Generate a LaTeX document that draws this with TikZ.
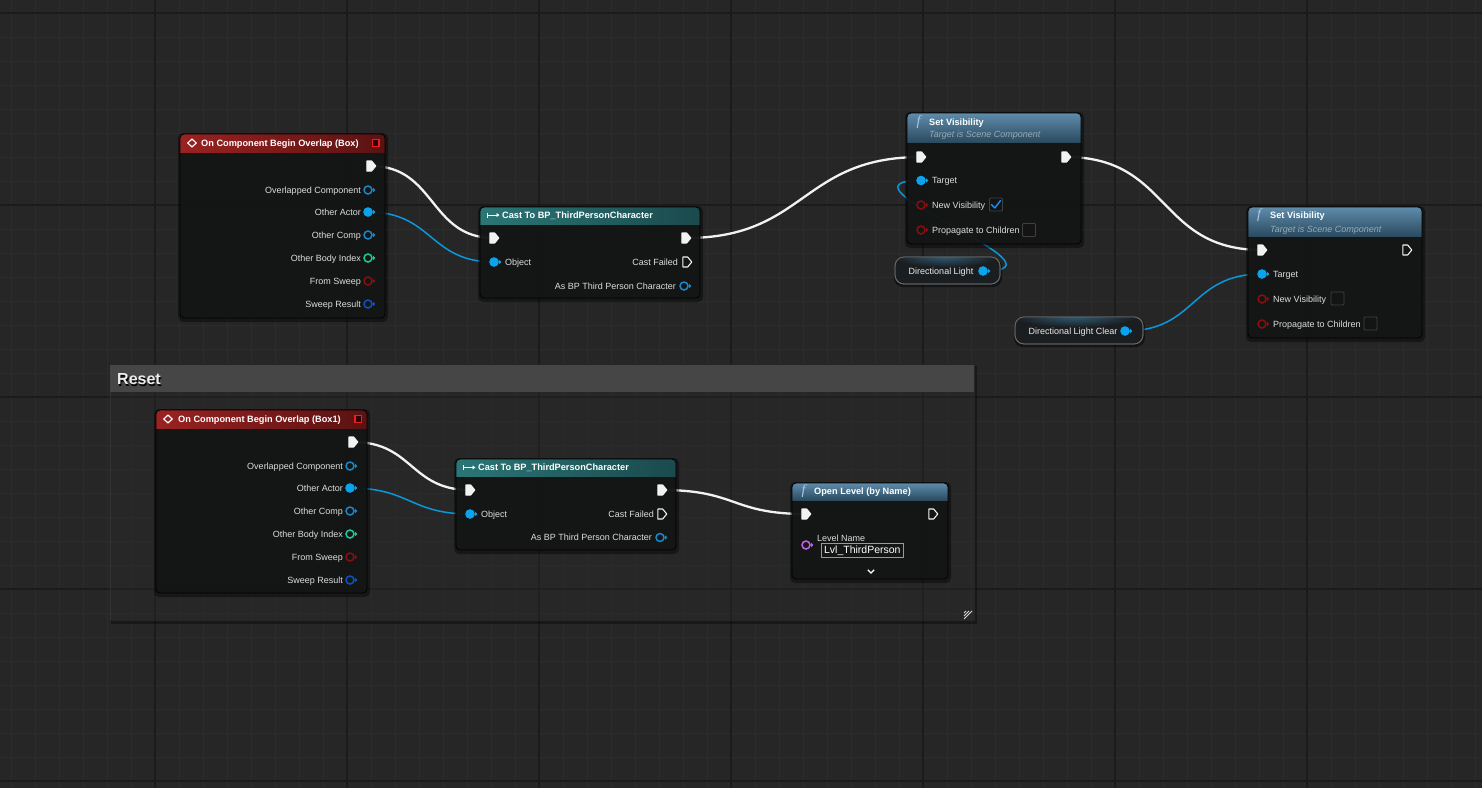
\documentclass[tikz,border=0pt]{standalone}
\usepackage{fontspec}
\setmainfont{Liberation Sans}
\newfontfamily\fser{Liberation Serif}
\usetikzlibrary{arrows.meta,calc}
\definecolor{bg}{HTML}{262626}
\definecolor{minorc}{HTML}{2C2C2C}
\definecolor{majorc}{HTML}{1B1B1B}
\definecolor{bodyc}{HTML}{141616}
\definecolor{labelc}{HTML}{DCDCDC}
\definecolor{subc}{HTML}{97AAB3}
\definecolor{redA}{HTML}{9A2222}
\definecolor{redB}{HTML}{5A1212}
\definecolor{tealA}{HTML}{2B7676}
\definecolor{tealB}{HTML}{1A4A4D}
\definecolor{blueA}{HTML}{5E8CAB}
\definecolor{blueB}{HTML}{2B4B60}
\definecolor{pinw}{HTML}{F2F2F2}
\definecolor{pinblue}{HTML}{0AA3EE}
\definecolor{pinblueh}{HTML}{1C86CA}
\definecolor{pingreen}{HTML}{1EC99A}
\definecolor{pinred}{HTML}{8A0E0E}
\definecolor{pindkblue}{HTML}{0B52C2}
\definecolor{pinpurple}{HTML}{C062E6}
\definecolor{wireblue}{HTML}{0A98DA}
\definecolor{redsq}{HTML}{E82020}
\definecolor{checkblue}{HTML}{1E8EF0}
\definecolor{iconblue}{HTML}{A9C9EE}
\definecolor{pillc}{HTML}{1B1E20}
\definecolor{pillglow}{HTML}{2F5E7C}
\definecolor{commenthdr}{HTML}{464646}
\pgfdeclarelayer{back}
\pgfdeclarelayer{wires}
\pgfsetlayers{back,wires,main}
\tikzset{
  lbl/.style={font=\fontsize{9}{10}\selectfont, text=labelc, inner sep=0pt, text height=6.4pt, text depth=0pt},
  hdr/.style={font=\fontsize{9.2}{10}\selectfont\bfseries, text=white, inner sep=0pt, text height=6.6pt, text depth=0pt},
  subhdr/.style={font=\fontsize{9}{10}\selectfont\itshape, text=subc, inner sep=0pt, text height=6.4pt, text depth=0pt},
  ficon/.style={font=\fser\itshape\fontsize{14}{14}\selectfont, text=iconblue, inner sep=0pt},
  execwire/.style={draw=pinw, line width=2.3pt},
  datawire/.style={draw=wireblue, line width=1.5pt},
  minorl/.style={draw=minorc, line width=1pt},
  majorl/.style={draw=majorc, line width=1.6pt},
  chkbox/.style={draw=black!75!white, fill=black!92!white, line width=0.8pt, minimum size=13pt, inner sep=0pt, rounded corners=1pt},
  pillbox/.style={fill=pillc, draw=black!60!white, line width=0.8pt, rounded corners=9pt}
}
\newcommand{\bpbox}[7]{%
  \fill[black, opacity=0.4, rounded corners=5pt] (#2-2,#3-1) rectangle (#4+3,#5+4);
  \node[inner sep=0pt, anchor=north west, minimum width={(#4-#2)*1pt}, minimum height={(#5-#3)*1pt}] (#1) at (#2,#3) {};
  \fill[bodyc, fill opacity=0.94, rounded corners=4pt] (#2,#3) rectangle (#4,#5);
  \begin{scope}
    \clip[rounded corners=4pt] (#2,#3) rectangle (#4,#5);
    \shade[#7] (#2,#3) rectangle (#4,#6);
  \end{scope}
  \draw[black, line width=0.8pt, rounded corners=4pt] (#2,#3) rectangle (#4,#5);
}
\newcommand{\execpin}[3]{%
  \coordinate (#1) at (#2);
  \begin{scope}[shift={(#2)}]
    \filldraw[draw=pinw, fill=#3, line width=1.1pt, line join=round] (-4.2,-5) -- (0.6,-5) -- (4.8,0) -- (0.6,5) -- (-4.2,5) -- cycle;
  \end{scope}}
\newcommand{\datapin}[4]{%
  \node[circle, draw=#3, fill=#4, line width=1.5pt, minimum size=8pt, inner sep=0pt] (#1) at (#2) {};
  \begin{scope}[shift={(#2)}]
    \fill[#3] (5,-2.3) -- (7.4,0) -- (5,2.3) -- cycle;
  \end{scope}}
\begin{document}
\begin{tikzpicture}[x=1pt, y=-1pt]
\useasboundingbox (0,0) rectangle (1482,788);
% ---------------- background grid and comment
\begin{pgfonlayer}{back}
\fill[bg] (0,0) rectangle (1482,788);
\foreach \x in {11,35,...,1482} \draw[minorl] (\x,0) -- (\x,788);
\foreach \y in {13,37,...,788} \draw[minorl] (0,\y) -- (1482,\y);
\foreach \x in {155,347,...,1482} \draw[majorl] (\x,0) -- (\x,788);
\foreach \y in {13,205,...,788} \draw[majorl] (0,\y) -- (1482,\y);
% comment "Reset"
\fill[black, opacity=0.35] (111,366) rectangle (977,624);
\fill[white, opacity=0.065] (109,364) rectangle (974,620);
\fill[commenthdr] (109,364) rectangle (974,392);
\draw[black!85!white, line width=0.6pt] (109,364) rectangle (974,620);
\node[font=\fontsize{16}{18}\selectfont\bfseries, text=black, inner sep=0pt, anchor=west, text height=11.5pt, text depth=0pt] at (118,380.5) {Reset};
\node[font=\fontsize{16}{18}\selectfont\bfseries, text=white!92!black, inner sep=0pt, anchor=west, text height=11.5pt, text depth=0pt] (resettitle) at (117,379) {Reset};
\foreach \d in {0,3,6} \draw[white!85!black, line width=0.9pt] (972-\d,611) -- (964,619-\d);
\end{pgfonlayer}

% ---------------- event node (Box)
\bpbox{ev1}{180}{134}{385}{318}{152}{left color=redA, right color=redB}
\draw[white, line width=1.2pt, line join=round] (192,139) -- (196.2,143) -- (192,147) -- (187.8,143) -- cycle;
\node[hdr, anchor=west] (ev1t) at (201,143) {On Component Begin Overlap (Box)};
\draw[redsq, line width=1.3pt, fill=black!80!red] (372.5,139.5) rectangle (379,146.5);
\execpin{ev1exo}{371,166}{pinw}
\node[lbl, anchor=east] (ev1l1) at (361,190) {Overlapped Component}; \datapin{ev1p1}{368,190}{pinblueh}{bodyc}
\node[lbl, anchor=east] (ev1l2) at (361,212) {Other Actor};          \datapin{ev1p2}{368,212}{pinblue}{pinblue}
\node[lbl, anchor=east] (ev1l3) at (361,235) {Other Comp};           \datapin{ev1p3}{368,235}{pinblueh}{bodyc}
\node[lbl, anchor=east] (ev1l4) at (361,258) {Other Body Index};     \datapin{ev1p4}{368,258}{pingreen}{bodyc}
\node[lbl, anchor=east] (ev1l5) at (361,281) {From Sweep};           \datapin{ev1p5}{368,281}{pinred}{bodyc}
\node[lbl, anchor=east] (ev1l6) at (361,304) {Sweep Result};         \datapin{ev1p6}{368,304}{pindkblue}{bodyc}

% ---------------- cast node (top)
\bpbox{ca1}{480}{207}{700}{298}{224}{left color=tealA, right color=tealB}
\draw[white, line width=1pt] (487,212.5) -- (487,217.5);
\draw[white, line width=1pt, -{Latex[length=3pt,width=4.5pt]}] (487,215) -- (499.5,215);
\node[hdr, anchor=west] (ca1t) at (502,215) {Cast To BP\_ThirdPersonCharacter};
\execpin{ca1exi}{494,238}{pinw}
\execpin{ca1exo}{686,238}{pinw}
\datapin{ca1obj}{494,262}{pinblue}{pinblue}
\node[lbl, anchor=west] (ca1l1) at (505,262) {Object};
\node[lbl, anchor=east] (ca1l2) at (678,262) {Cast Failed};
\execpin{ca1fail}{687,262}{bodyc}
\node[lbl, anchor=east] (ca1l3) at (676,286) {As BP Third Person Character};
\datapin{ca1as}{684,286}{pinblueh}{bodyc}

% ---------------- set visibility (top)
\bpbox{sv1}{907}{113}{1081}{244}{142}{top color=blueA, bottom color=blueB}
\node[ficon] (sv1f) at (918.5,122.5) {f};
\node[hdr, anchor=west] (sv1t) at (929,122) {Set Visibility};
\node[subhdr, anchor=west] (sv1s) at (929,134.5) {Target is Scene Component};
\execpin{sv1exi}{921,157}{pinw}
\execpin{sv1exo}{1066,157}{pinw}
\datapin{sv1tg}{921,180.5}{pinblue}{pinblue}
\node[lbl, anchor=west] (sv1l1) at (932,180.5) {Target};
\datapin{sv1nv}{921,205}{pinred}{bodyc}
\node[lbl, anchor=west] (sv1l2) at (932,205) {New Visibility};
\node[chkbox] (sv1cb1) at (996,204.5) {};
\draw[checkblue, line width=1.4pt, line cap=round, line join=round] (991.5,204.5) -- (994.8,208) -- (1000.5,200.5);
\datapin{sv1pc}{921,230}{pinred}{bodyc}
\node[lbl, anchor=west] (sv1l3) at (932,230) {Propagate to Children};
\node[chkbox] (sv1cb2) at (1029,230) {};

% ---------------- Directional Light variable
\fill[black, opacity=0.45, rounded corners=9pt] (894,258) rectangle (1002,287);
\path[pillbox] (895,257) rectangle (1000,284);
\begin{scope}
  \clip[rounded corners=9pt] (895,257) rectangle (1000,284);
  \shade[inner color=pillglow, outer color=pillc] (945,256) ellipse (52 and 11);
\end{scope}
\draw[black!60!white, line width=0.8pt, rounded corners=9pt] (895,257) rectangle (1000,284);
\node[lbl, text=white!92!black] (dlt) at (941,271) {Directional Light};
\datapin{dlpin}{983,271}{pinblue}{pinblue}

% ---------------- set visibility (right)
\bpbox{sv2}{1248}{207}{1422}{338}{236}{top color=blueA, bottom color=blueB}
\node[ficon] (sv2f) at (1259,215.5) {f};
\node[hdr, anchor=west] (sv2t) at (1270,215) {Set Visibility};
\node[subhdr, anchor=west] (sv2s) at (1270,229) {Target is Scene Component};
\execpin{sv2exi}{1262,250}{pinw}
\execpin{sv2exo}{1407,250}{bodyc}
\datapin{sv2tg}{1262,274}{pinblue}{pinblue}
\node[lbl, anchor=west] (sv2l1) at (1273,274) {Target};
\datapin{sv2nv}{1262,299}{pinred}{bodyc}
\node[lbl, anchor=west] (sv2l2) at (1273,299) {New Visibility};
\node[chkbox] (sv2cb1) at (1337.5,298.5) {};
\datapin{sv2pc}{1262,324}{pinred}{bodyc}
\node[lbl, anchor=west] (sv2l3) at (1273,324) {Propagate to Children};
\node[chkbox] (sv2cb2) at (1370.5,323.5) {};

% ---------------- Directional Light Clear variable
\fill[black, opacity=0.45, rounded corners=9pt] (1014,318) rectangle (1145,347);
\path[pillbox] (1015,317) rectangle (1143,344);
\begin{scope}
  \clip[rounded corners=9pt] (1015,317) rectangle (1143,344);
  \shade[inner color=pillglow, outer color=pillc] (1075,316) ellipse (62 and 11);
\end{scope}
\draw[black!60!white, line width=0.8pt, rounded corners=9pt] (1015,317) rectangle (1143,344);
\node[lbl, text=white!92!black] (dlct) at (1073,331) {Directional Light Clear};
\datapin{dlcpin}{1125,331}{pinblue}{pinblue}

% ---------------- event node (Box1)
\bpbox{ev2}{156}{410}{367}{593}{428}{left color=redA, right color=redB}
\draw[white, line width=1.2pt, line join=round] (168,415) -- (172.2,419) -- (168,423) -- (163.8,419) -- cycle;
\node[hdr, anchor=west] (ev2t) at (178,419) {On Component Begin Overlap (Box1)};
\draw[redsq, line width=1.3pt, fill=black!80!red] (355,415.5) rectangle (361.5,422.5);
\execpin{ev2exo}{353,442}{pinw}
\node[lbl, anchor=east] (ev2l1) at (343,466) {Overlapped Component}; \datapin{ev2p1}{350,466}{pinblueh}{bodyc}
\node[lbl, anchor=east] (ev2l2) at (343,488) {Other Actor};          \datapin{ev2p2}{350,488}{pinblue}{pinblue}
\node[lbl, anchor=east] (ev2l3) at (343,511) {Other Comp};           \datapin{ev2p3}{350,511}{pinblueh}{bodyc}
\node[lbl, anchor=east] (ev2l4) at (343,534) {Other Body Index};     \datapin{ev2p4}{350,534}{pingreen}{bodyc}
\node[lbl, anchor=east] (ev2l5) at (343,557) {From Sweep};           \datapin{ev2p5}{350,557}{pinred}{bodyc}
\node[lbl, anchor=east] (ev2l6) at (343,580) {Sweep Result};         \datapin{ev2p6}{350,580}{pindkblue}{bodyc}

% ---------------- cast node (bottom)
\bpbox{ca2}{456}{459}{676}{550}{476}{left color=tealA, right color=tealB}
\draw[white, line width=1pt] (463,465) -- (463,470);
\draw[white, line width=1pt, -{Latex[length=3pt,width=4.5pt]}] (463,467.5) -- (475.5,467.5);
\node[hdr, anchor=west] (ca2t) at (478,467.5) {Cast To BP\_ThirdPersonCharacter};
\execpin{ca2exi}{470,490}{pinw}
\execpin{ca2exo}{662,490}{pinw}
\datapin{ca2obj}{470,514}{pinblue}{pinblue}
\node[lbl, anchor=west] (ca2l1) at (481,514) {Object};
\node[lbl, anchor=east] (ca2l2) at (654,514) {Cast Failed};
\execpin{ca2fail}{662,514}{bodyc}
\node[lbl, anchor=east] (ca2l3) at (652,537.5) {As BP Third Person Character};
\datapin{ca2as}{660,537.5}{pinblueh}{bodyc}

% ---------------- open level
\bpbox{ol}{792}{483}{948}{579}{500}{top color=blueA, bottom color=blueB}
\node[ficon] (olf) at (803.5,491.5) {f};
\node[hdr, anchor=west] (olt) at (814,491) {Open Level (by Name)};
\execpin{olexi}{806,514}{pinw}
\execpin{olexo}{933,514}{bodyc}
\node[lbl, anchor=west] (oll) at (817,538) {Level Name};
\datapin{olname}{806,545}{pinpurple}{bodyc}
\node[draw=white!60!black, line width=0.7pt, minimum width=82pt, minimum height=13.5pt, inner sep=0pt, anchor=west, font=\fontsize{10.5}{12}\selectfont, text=white] (olbox) at (821,550.5) {Lvl\_ThirdPerson};
\draw[white, line width=1.1pt] (867.8,569.8) -- (871,573) -- (874.2,569.8);

% ---------------- wires
\begin{pgfonlayer}{wires}
\draw[execwire] (ev1exo) .. controls +(65,0) and +(-65,0) .. (ca1exi);
\draw[datawire] (ev1p2.center) .. controls +(65,0) and +(-65,0) .. (ca1obj.center);
\draw[execwire] (ca1exo) .. controls +(120,0) and +(-120,0) .. (sv1exi);
\draw[execwire] (sv1exo) .. controls +(105,0) and +(-105,0) .. (sv2exi);
\draw[datawire] (dlpin.center) .. controls +(100,0) and +(-100,0) .. (sv1tg.center);
\draw[datawire] (dlcpin.center) .. controls +(72,0) and +(-72,0) .. (sv2tg.center);
\draw[execwire] (ev2exo) .. controls +(60,0) and +(-60,0) .. (ca2exi);
\draw[datawire] (ev2p2.center) .. controls +(60,0) and +(-60,0) .. (ca2obj.center);
\draw[execwire] (ca2exo) .. controls +(75,0) and +(-75,0) .. (olexi);
\end{pgfonlayer}
\end{tikzpicture}
\end{document}
